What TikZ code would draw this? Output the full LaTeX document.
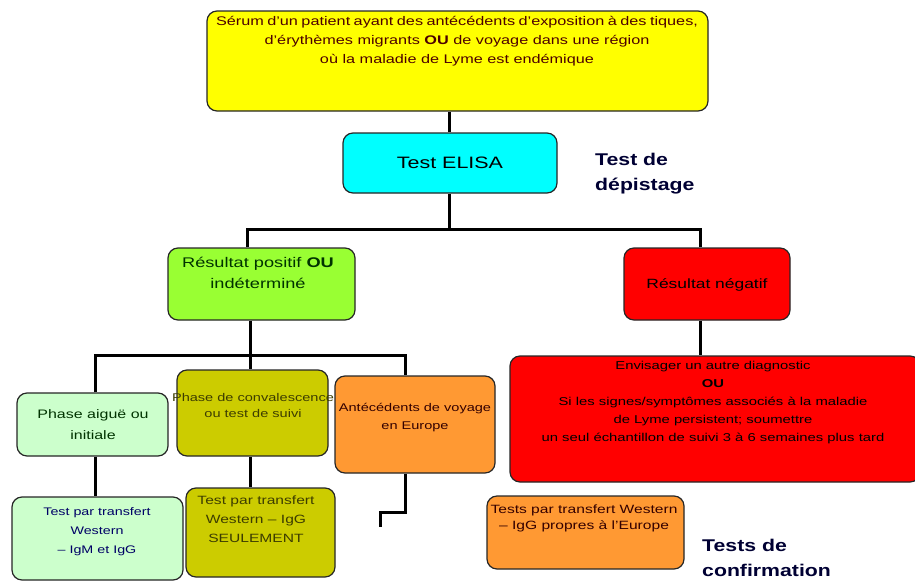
\documentclass[tikz,border=0pt]{standalone}
\usepackage{fontspec}
\setmainfont[FakeStretch=1.3]{Liberation Sans}
\newfontfamily\labelfont[FakeStretch=1.25]{Liberation Sans}
\begin{document}
\begin{tikzpicture}[x=1pt,y=-1pt,
  box/.style={draw=black!85,line width=1.2pt,rounded corners=10pt,inner sep=0pt},
  conn/.style={draw=black,line width=3pt},
  txt/.style={align=center,inner sep=0pt,font=\fontsize{11}{18}\selectfont},
  side/.style={align=left,inner sep=0pt,anchor=north west,text=blue!20!black,font=\labelfont\bfseries\fontsize{17}{25}\selectfont}]
\definecolor{cyellow}{HTML}{FFFF00}
\definecolor{ccyan}{HTML}{00FFFF}
\definecolor{cred}{HTML}{FF0000}
\definecolor{cgreen}{HTML}{99FF33}
\definecolor{clight}{HTML}{CCFFCC}
\definecolor{colive}{HTML}{CCCC00}
\definecolor{corange}{HTML}{FF9933}
\useasboundingbox (0,0) rectangle (915,581);
% boxes
\node[box,fill=cyellow,minimum width=501pt,minimum height=100pt] (top) at (457.5,61) {};
\node[box,fill=ccyan,minimum width=214pt,minimum height=60pt] (elisa) at (450,163) {};
\node[box,fill=cgreen,minimum width=187pt,minimum height=72pt] (pos) at (261.5,284) {};
\node[box,fill=cred,minimum width=166pt,minimum height=72pt] (neg) at (707,284) {};
\node[box,fill=clight,minimum width=151pt,minimum height=63pt] (acute) at (92.5,424.5) {};
\node[box,fill=colive,minimum width=151pt,minimum height=86pt] (conv) at (252.5,413) {};
\node[box,fill=corange,minimum width=160pt,minimum height=97pt] (eur) at (415,424.5) {};
\node[box,fill=cred,minimum width=410pt,minimum height=126pt] (big) at (715,419) {};
\node[box,fill=clight,minimum width=171pt,minimum height=83pt] (wb1) at (97.5,538.5) {};
\node[box,fill=colive,minimum width=149pt,minimum height=89pt] (wb2) at (260.5,532.5) {};
\node[box,fill=corange,minimum width=197pt,minimum height=73pt] (wb3) at (585.5,532.5) {};
% texts
\node[txt,anchor=north,font=\fontsize{12.5}{19}\selectfont,text=black!70!red] (ttop) at (457,16)
  {\makebox[482pt][s]{Sérum d'un patient ayant des antécédents d'exposition à des tiques,}\\
   d'érythèmes migrants \textbf{OU} de voyage dans une région\\
   où la maladie de Lyme est endémique};
\node[txt,font=\fontsize{16.5}{18}\selectfont] (telisa) at (450,163) {Test ELISA};
\node[side] (tdep) at (595,153) {Test de\\dépistage};
\node[txt,anchor=north,font=\fontsize{14}{21}\selectfont,text=black!80!green] (tpos) at (258,257) {Résultat positif \textbf{OU}\\indéterminé};
\node[txt,font=\fontsize{13.4}{18}\selectfont] (tneg) at (707,285) {Résultat négatif};
\node[txt,anchor=north,font=\fontsize{12.3}{21}\selectfont,text=black!80!green] (tacute) at (93,409) {Phase aiguë ou\\initiale};
\node[txt,anchor=north,font=\fontsize{11.2}{16}\selectfont,text=black!70!colive] (tconv) at (253,393) {Phase de convalescence\\ou test de suivi};
\node[txt,anchor=north,font=\fontsize{11.2}{18}\selectfont,text=black!80!red] (teur) at (415,403) {Antécédents de voyage\\en Europe};
\node[txt,anchor=north,font=\fontsize{11.4}{18}\selectfont] (tbig) at (713,361)
  {Envisager un autre diagnostic\\\textbf{OU}\\Si les signes/symptômes associés à la maladie\\de Lyme persistent; soumettre\\un seul échantillon de suivi 3 à 6 semaines plus tard};
\node[txt,anchor=north,font=\fontsize{11}{19}\selectfont,text=black!60!blue] (twb1) at (97,507) {Test par transfert\\Western\\– IgM et IgG};
\node[txt,anchor=north,font=\fontsize{12}{19}\selectfont,text=black!70!colive] (twb2) at (256,496) {Test par transfert\\Western – IgG\\SEULEMENT};
\node[txt,anchor=north,font=\fontsize{12}{16}\selectfont,text=black!80!red] (twb3) at (584,505) {Tests par transfert Western\\– IgG propres à l'Europe};
\node[side] (tconf) at (702,539) {Tests de\\confirmation};
% connectors
\coordinate (c1) at (449,229);
\coordinate (b1L) at (247,229);
\coordinate (b1R) at (700,229);
\coordinate (c2) at (250,355);
\coordinate (b2L) at (95,355);
\coordinate (b2R) at (405,355);
\coordinate (e1) at (405,512);
\coordinate (e2) at (380,512);
\coordinate (eend) at (380,527);
\draw[conn] (elisa.north -| c1) -- (c1 |- top.south);
\draw[conn] (elisa.south -| c1) -- (c1);
\draw[conn] (b1L |- pos.north) -- (b1L) -- (b1R) -- (b1R |- neg.north);
\draw[conn] (c2 |- pos.south) -- (c2);
\draw[conn] (b2L |- acute.north) -- (b2L) -- (b2R) -- (b2R |- eur.north);
\draw[conn] (c2) -- (c2 |- conv.north);
\draw[conn] (b1R |- neg.south) -- (b1R |- big.north);
\draw[conn] (b2L |- acute.south) -- (b2L |- wb1.north);
\draw[conn] (c2 |- conv.south) -- (c2 |- wb2.north);
\draw[conn] (e1 |- eur.south) -- (e1) -- (e2) -- (eend);
\end{tikzpicture}
\end{document}
